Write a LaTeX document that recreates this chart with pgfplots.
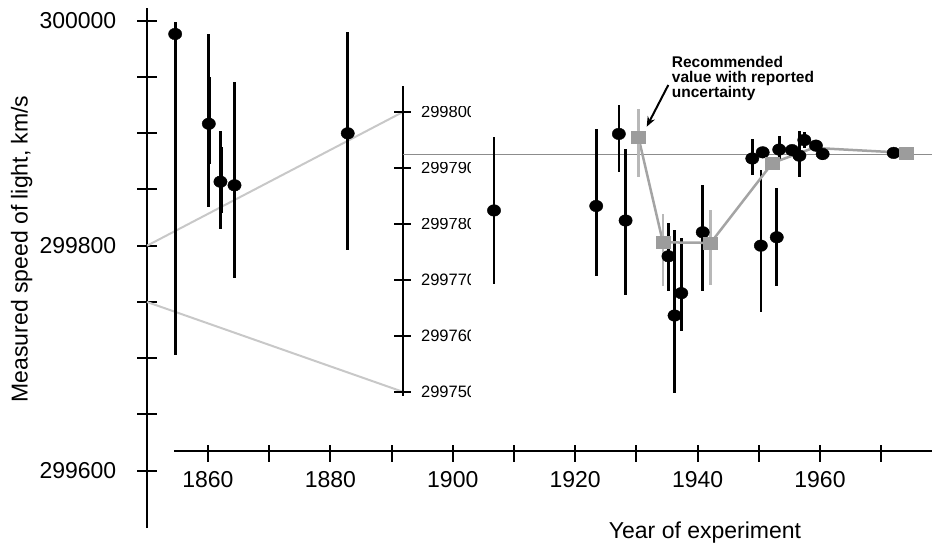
\documentclass[border=0pt]{standalone}
\usepackage{pgfplots}
\pgfplotsset{compat=1.18}
\usepackage{pgfplotstable}
\usepackage{fontspec}
\setmainfont{Liberation Sans}
\usepackage{trimclip}
\usetikzlibrary{arrows.meta}
\definecolor{refline}{HTML}{8C8C8C}
\definecolor{conn}{HTML}{C8C8C8}
\definecolor{gline}{HTML}{A4A4A4}
\definecolor{gbar}{HTML}{B8B8B8}
\definecolor{gsq}{HTML}{9C9C9C}
\pgfplotsset{scaled y ticks=false, scaled x ticks=false}

\pgfplotstableread{
x y ep em
1854.6 299988.2 10.9 285.4
1860.1 299908.4 79.5 73.7
1862.0 299856.9 45.3 42.3
1864.3 299853.7 92.1 82.7
1882.8 299899.9 90.3 103.9
}\maintab

\pgfplotstableread{
x y ep em
1860.3 299911.5 38.5 38.5
1862.2 299858.5 29.5 29.5
}\mainextra

\pgfplotstableread{
x y ep em
1906.7 299782.4 13.2 13.1
1923.4 299783.2 13.8 12.6
1927.1 299796.1 5.2 6.9
1928.2 299780.6 12.8 13.3
1935.2 299774.2 6.0 6.3
1936.2 299763.6 15.3 13.9
1937.3 299767.6 9.8 6.7
1940.8 299778.5 8.5 10.6
1948.9 299791.7 3.5 2.9
1950.3 299776.1 13.6 11.9
1950.6 299792.8 1 1
1952.9 299777.6 8.9 8.8
1953.3 299793.3 2.5 1.8
1955.4 299793.2 1 1
1956.6 299792.2 4.4 3.8
1957.4 299795.0 1.5 1.5
1959.3 299794.0 1 1
1960.4 299792.5 1 1
1972.0 299792.7 0.3 0.3
}\insettab

\pgfplotstableread{
x y ep em
1930.3 299795.5 5.0 7.1
1934.3 299776.7 5.1 7.9
1942.1 299776.6 5.8 7.5
1952.2 299790.9 1 1
1974.1 299792.7 0 0
}\recotab

\begin{document}
\begin{tikzpicture}
\path[use as bounding box] (0pt,0pt) rectangle (932pt,543pt);

% main (left) axis
\begin{axis}[
  scale only axis, at={(147pt,14.9pt)}, anchor=south west,
  width=785.2pt, height=519.75pt,
  xmin=1850, xmax=1978.3, ymin=299549, ymax=300011,
  axis x line=none, axis y line=left,
  axis line style={-, line width=2.6pt, black},
  ytick={299600,299650,299700,299750,299800,299850,299900,299950,300000},
  yticklabels={299600,,,,299800,,,,300000},
  tick align=center, major tick length=20pt,
  ytick style={line width=2pt, black},
  yticklabel style={font=\fontsize{23}{23}\selectfont, anchor=east, inner sep=0pt, xshift=-20.5pt},
  clip=false,
]
\addplot[conn, line width=2pt, mark=none] coordinates {(1850,299800) (1891.78,299918.76)};
\addplot[conn, line width=2pt, mark=none] coordinates {(1850,299750) (1891.78,299670.2)};
\addplot[draw=none, mark=none, error bars/.cd, y dir=both, y explicit, error mark=none,
  error bar style={draw=black, line width=2.7pt}]
  table[x=x, y=y, y error plus=ep, y error minus=em] {\mainextra};
\addplot[only marks, mark=*, mark size=5.8pt, mark options={xscale=1.15, draw=black, fill=black},
  error bars/.cd, y dir=both, y explicit, error mark=none,
  error bar style={draw=black, line width=2.7pt}]
  table[x=x, y=y, y error plus=ep, y error minus=em] {\maintab};
\end{axis}

% inset (expanded) axis
\begin{axis}[
  scale only axis, at={(402.7pt,147pt)}, anchor=south west,
  width=529.5pt, height=309.6pt,
  xmin=1891.78, xmax=1978.3, ymin=299749.2, ymax=299804.6,
  axis x line=none, axis y line=left,
  axis line style={-, line width=2.3pt, black},
  ytick={299750,299760,299770,299780,299790,299800},
  yticklabels={\clipbox{0pt 0pt 5.74pt 0pt}{299750},\clipbox{0pt 0pt 5.74pt 0pt}{299760},\clipbox{0pt 0pt 5.74pt 0pt}{299770},\clipbox{0pt 0pt 5.74pt 0pt}{299780},\clipbox{0pt 0pt 5.74pt 0pt}{299790},\clipbox{0pt 0pt 5.74pt 0pt}{299800}},
  tick align=center, major tick length=17pt,
  ytick style={line width=2pt, black},
  yticklabel style={font=\fontsize{16.5}{16.5}\selectfont, anchor=west, inner sep=0pt, xshift=26.7pt},
  clip=false,
]
\addplot[refline, line width=1.5pt, mark=none] coordinates {(1891.78,299792.458) (1978.3,299792.458)};
\addplot[only marks, mark=*, mark size=5.8pt, mark options={xscale=1.15, draw=black, fill=black},
  error bars/.cd, y dir=both, y explicit, error mark=none,
  error bar style={draw=black, line width=2.7pt}]
  table[x=x, y=y, y error plus=ep, y error minus=em] {\insettab};
\addplot[gline, line width=2.5pt, mark=none] coordinates {
  (1930.3,299795.5) (1934.3,299776.7) (1942.1,299776.6) (1952.2,299790.9) (1958.9,299793.6) (1974.1,299792.7)};
\addplot[only marks, mark=square*, mark size=7pt, mark options={yscale=0.88, draw=gsq, fill=gsq},
  error bars/.cd, y dir=both, y explicit, error mark=none,
  error bar style={draw=gbar, line width=2.5pt}]
  table[x=x, y=y, y error plus=ep, y error minus=em] {\recotab};
\end{axis}

% x axis
\begin{axis}[
  scale only axis, at={(174.3pt,92.3pt)}, anchor=south west,
  width=757.7pt, height=20pt,
  xmin=1854.5, xmax=1978.3, ymin=0, ymax=1,
  axis y line=none, axis x line=bottom,
  axis line style={-, line width=2.2pt, black},
  xtick={1860,1870,1880,1890,1900,1910,1920,1930,1940,1950,1960,1970},
  xticklabels={1860,,1880,,1900,,1920,,1940,,1960,},
  tick align=center, major tick length=17pt,
  xtick style={line width=2pt, black, yshift=-2.5pt},
  xticklabel style={font=\fontsize{23}{23}\selectfont, anchor=north, inner sep=0pt, yshift=-12.5pt},
]
\end{axis}

\node[rotate=90, font=\fontsize{23}{23}\selectfont] at (21.7pt,294pt) {Measured speed of light, km/s};
\node[anchor=base, font=\fontsize{23}{23}\selectfont, inner sep=0pt] at (705pt,4.8pt) {Year of experiment};
\node[anchor=north west, align=left, inner sep=0pt, font=\bfseries\fontsize{15.5}{15}\selectfont] at (671.7pt,487.3pt) {Recommended\\value with reported\\uncertainty};
\draw[black, line width=2pt, -{Stealth[length=10pt,width=8pt]}] (668.3pt,458pt) -- (646.7pt,416.3pt);
\end{tikzpicture}
\end{document}
